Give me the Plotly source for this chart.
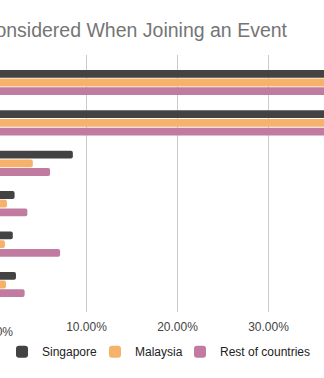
import plotly.graph_objects as go

categories = ["Topic of the event", "Date and time", "Cost", "Location", "Speakers", "Networking"]
singapore = [0.48, 0.44, 0.085, 0.021, 0.019, 0.0225]
malaysia = [0.46, 0.42, 0.041, 0.0126, 0.0104, 0.0115]
rest = [0.50, 0.45, 0.060, 0.035, 0.071, 0.032]
series_names = ["Singapore", "Malaysia", "Rest of countries"]
colors = ["#434343", "#F6B26B", "#C27BA0"]

W, H = 324, 378
px_per_unit = 910.0  # pixels per 100%
x0_px = -4.5         # pixel position of 0%
legend_square_left = [18, 111, 196]

fig = go.Figure()
legend_ids = ["legend", "legend2", "legend3"]
for name, vals, col, lid in zip(series_names, [singapore, malaysia, rest], colors, legend_ids):
    fig.add_trace(go.Bar(
        y=categories, x=vals, name=name, orientation="h",
        marker=dict(color=col, cornerradius=2, line=dict(width=0)),
        hoverinfo="x+name", legend=lid,
    ))

xmin = (0 - x0_px) / px_per_unit
xmax = (W - x0_px) / px_per_unit

legend_common = dict(orientation="h", yanchor="middle", y=-0.1545, xanchor="left",
                     font=dict(size=12, color="#222222"), bgcolor="rgba(0,0,0,0)",
                     borderwidth=0)
legends = {}
for lid, sx in zip(legend_ids, legend_square_left):
    legends[lid] = dict(legend_common, x=(sx - 16) / W)

fig.update_layout(
    width=W, height=H,
    margin=dict(l=0, r=0, t=55, b=66, pad=0),
    paper_bgcolor="white", plot_bgcolor="white",
    barmode="group", bargap=0.355, bargroupgap=0.1,
    font=dict(family="Liberation Sans, Arial, sans-serif", size=12, color="#444444"),
    title=dict(text="Factors Considered When Joining an Event", xref="container",
               x=287 / W, xanchor="right", y=1 - 30 / H, yanchor="middle",
               font=dict(size=19.5, color="#757575")),
    xaxis=dict(range=[xmin, xmax], tickvals=[0.1, 0.2, 0.3], tickformat=".2%",
               showgrid=True, gridcolor="#cccccc", gridwidth=1, zeroline=False,
               showline=False, ticks="", ticklabelstandoff=6,
               tickfont=dict(size=12, color="#444444")),
    yaxis=dict(categoryorder="array", categoryarray=categories,
               range=[5.68, -0.68], showticklabels=False, showgrid=False,
               zeroline=False, showline=False),
    showlegend=True,
    **legends,
)

fig.add_annotation(text="0.00%", xref="paper", yref="paper", x=x0_px / W, y=0,
                   yshift=-14 - 6, xanchor="center", yanchor="middle", showarrow=False,
                   font=dict(size=12, color="#444444"))

fig.write_html("out.html")
